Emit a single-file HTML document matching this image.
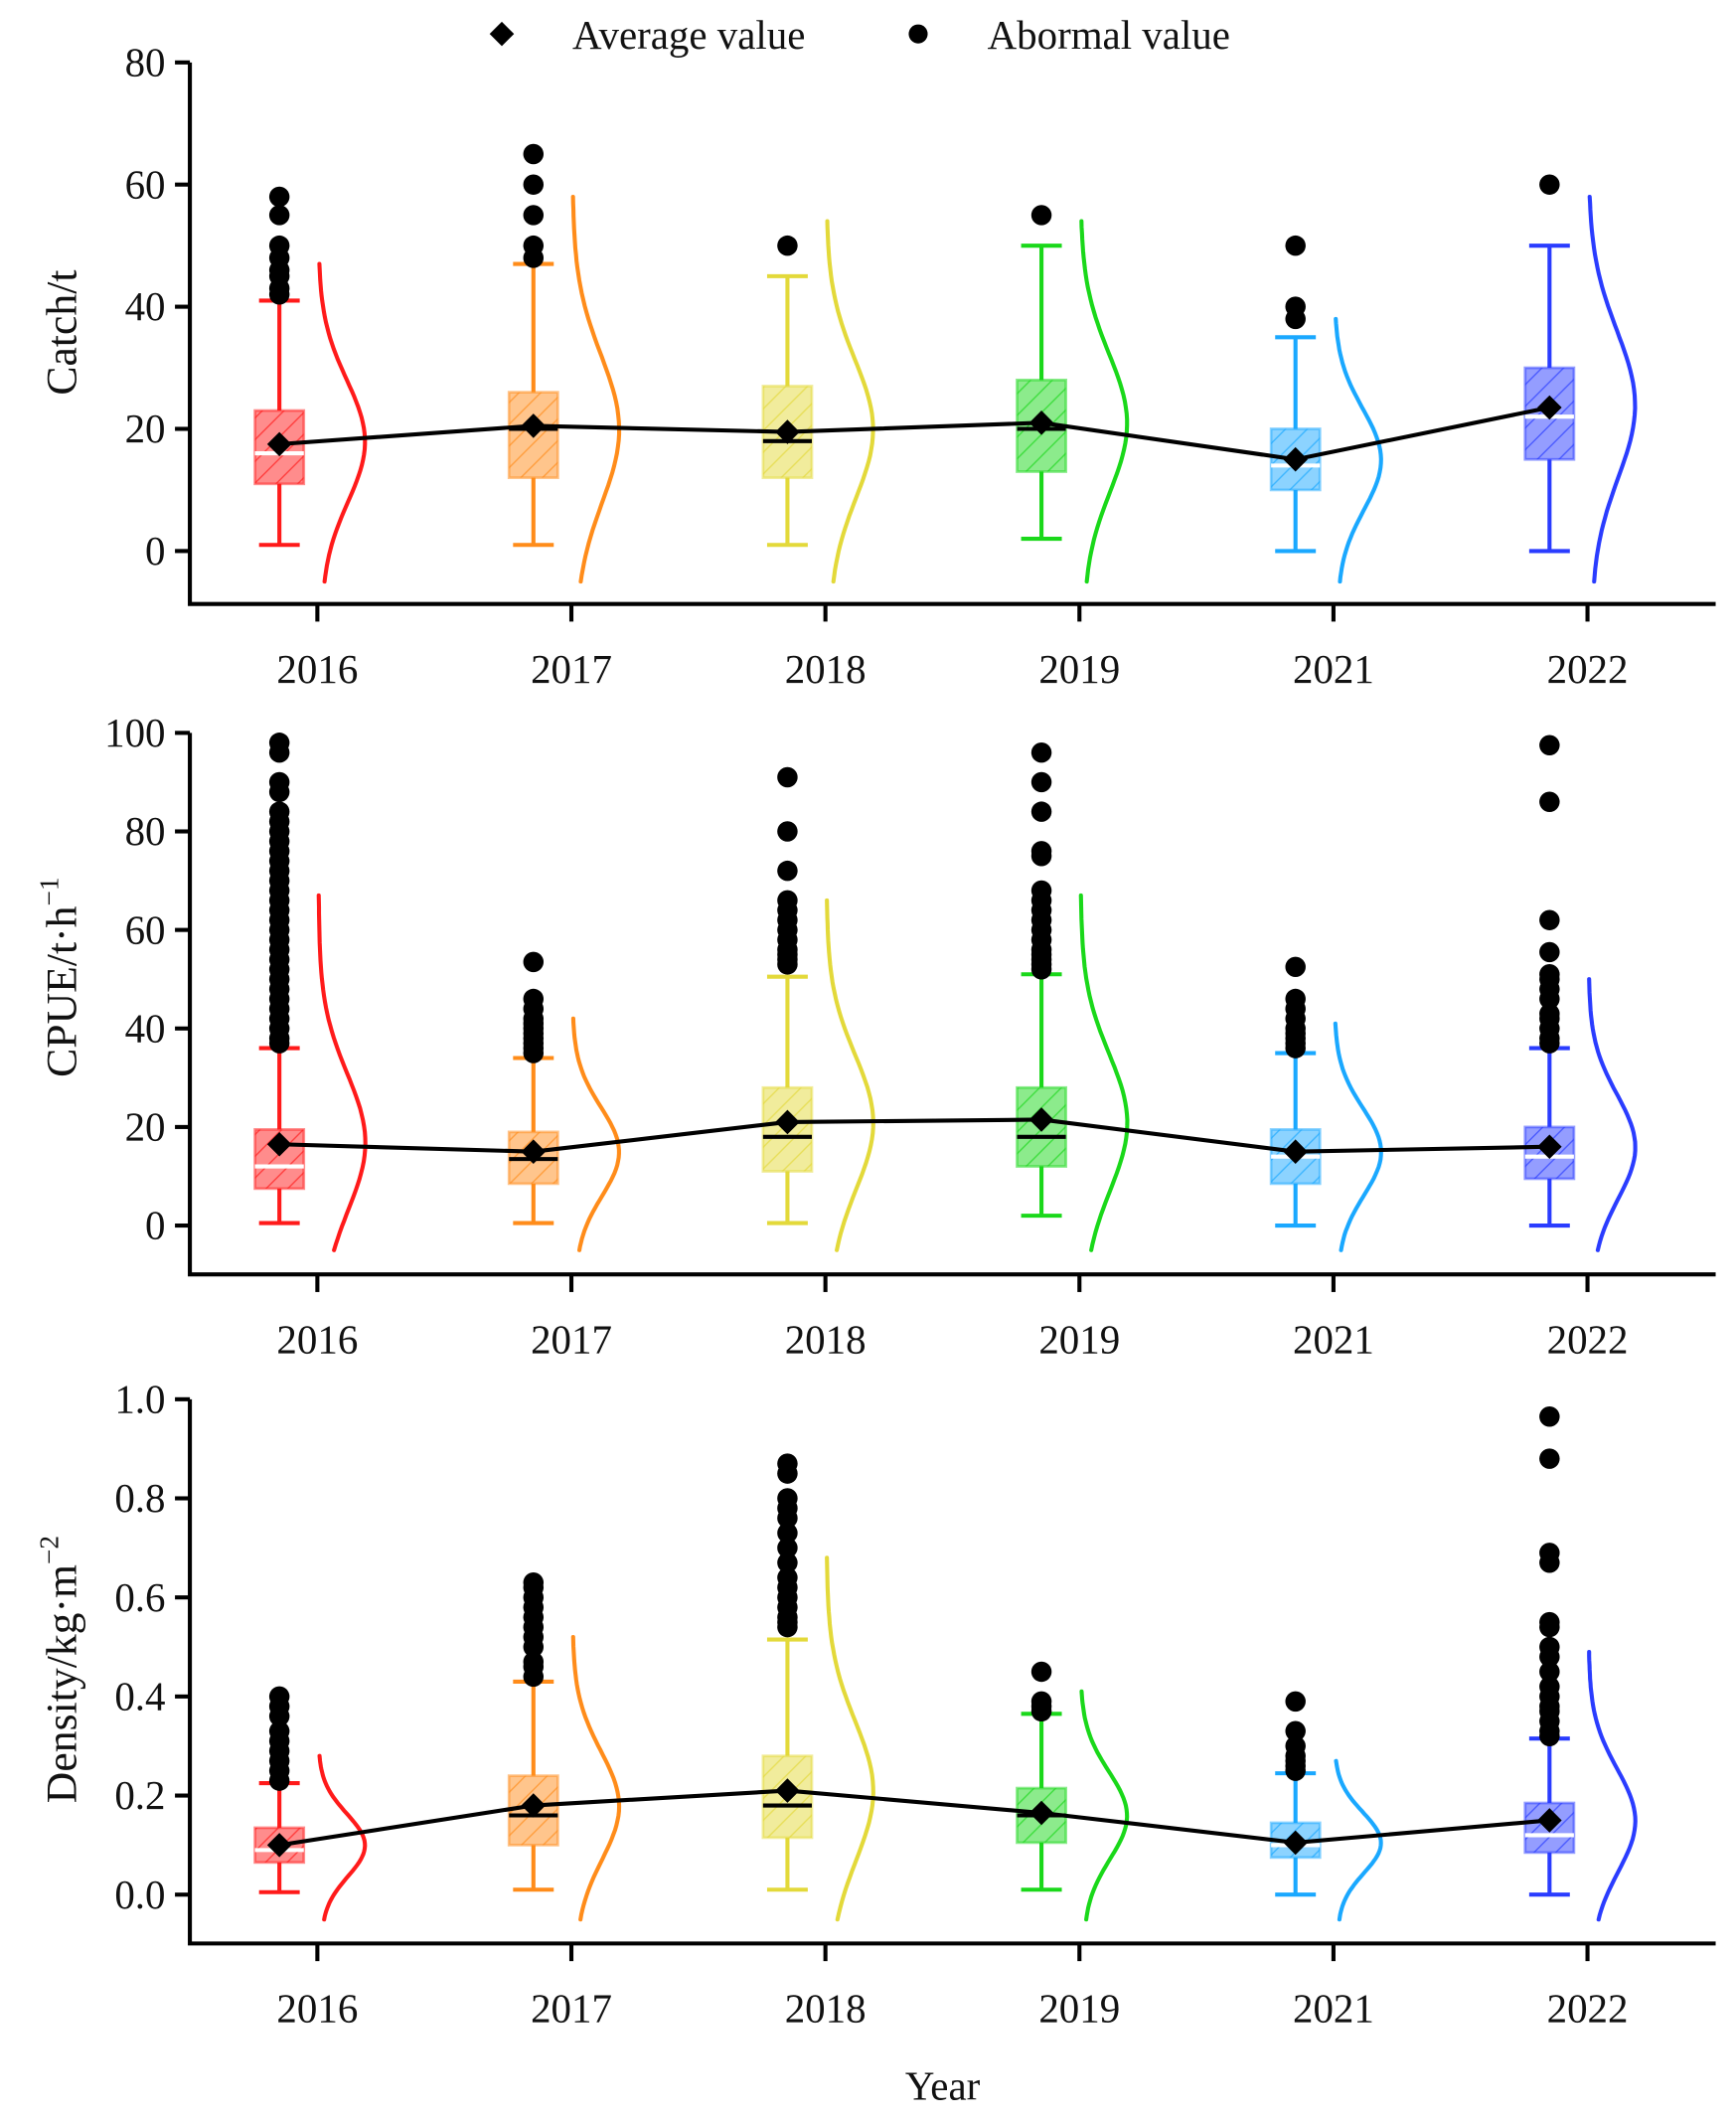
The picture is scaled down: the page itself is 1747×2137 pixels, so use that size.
<!DOCTYPE html>
<html><head><meta charset="utf-8"><style>
html,body{margin:0;padding:0;background:#fff}
svg{display:block}
text{font-family:"Liberation Serif",serif;fill:#111}
</style></head><body>
<svg id="chart" width="1747" height="2137" viewBox="0 0 1280 1565" preserveAspectRatio="none" xmlns="http://www.w3.org/2000/svg">
<defs id="defs"></defs>
<g>
<path d="M370 16 L379 25 L370 34 L361 25 Z" fill="#000"/>
<text x="422" y="36" font-size="30">Average value</text>
<circle cx="677" cy="25" r="7" fill="#000"/>
<text x="728" y="36" font-size="30">Abormal value</text>
</g>
<text x="695" y="1547" font-size="30" text-anchor="middle">Year</text>
</svg>
<script>
const years=['2016','2017','2018','2019','2021','2022'];
const colors=['#ff1a1a','#ff8c1a','#e3d93a','#1ad81a','#1aa8ff','#2a3cff'];
// Catch
const catchWhisk=[[1,41],[1,47],[1,45],[2,50],[0,35],[0,50]];
const catchBox=[[11,23],[12,26],[12,27],[13,28],[10,20],[15,30]];
const catchMed=[16,20,18,20,14,22];
const catchMean=[17.5,20.5,19.5,21,15,23.5];
const catchOut=[[42,43,45,46,48,50,55,58],[48,50,55,60,65],[50],[55],[38,40,50],[60]];
const catchKde=[[-5,47,18],[-5,58,20],[-5,54,20],[-5,54,21],[-5,38,15],[-5,58,24]];
// CPUE
const cpueWhisk=[[0.5,36],[0.5,34],[0.5,50.5],[2,51],[0,35],[0,36]];
const cpueBox=[[7.5,19.5],[8.5,19],[11,28],[12,28],[8.5,19.5],[9.5,20]];
const cpueMed=[12,13.5,18,18,14,14];
const cpueMean=[16.5,15,21,21.5,15,16];
const cpueOut=[[37,38,40,42,44,46,48,50,52,54,56,58,60,62,64,66,68,70,72,74,76,78,80,82,84,88,90,96,98],[35,36,37,38,39,40,41,42,44,46,53.5],[53,54,55,56,58,60,62,64,66,72,80,91],[52,53,54,55,56,58,60,62,64,66,68,75,76,84,90,96],[36,37,38,39,40,42,44,46,52.5],[37,38,40,42,43,46,48,50,51,55.5,62,86,97.5]];
const cpueKde=[[-5,67,17],[-5,42,15],[-5,66,21],[-5,67,21],[-5,41,15],[-5,50,16]];
// Density
const denWhisk=[[0.005,0.225],[0.01,0.43],[0.01,0.515],[0.01,0.365],[0,0.245],[0,0.315]];
const denBox=[[0.065,0.135],[0.10,0.24],[0.115,0.28],[0.105,0.215],[0.075,0.145],[0.085,0.185]];
const denMed=[0.09,0.16,0.18,0.16,0.10,0.12];
const denMean=[0.10,0.18,0.21,0.165,0.105,0.15];
const denOut=[[0.23,0.25,0.27,0.29,0.31,0.33,0.36,0.38,0.40],[0.44,0.46,0.47,0.50,0.52,0.54,0.56,0.58,0.60,0.62,0.63],[0.54,0.55,0.56,0.58,0.60,0.62,0.64,0.67,0.70,0.73,0.76,0.78,0.80,0.85,0.87],[0.37,0.38,0.39,0.45],[0.25,0.26,0.27,0.28,0.30,0.33,0.39],[0.32,0.33,0.35,0.37,0.38,0.40,0.42,0.45,0.48,0.50,0.54,0.55,0.67,0.69,0.88,0.965]];
const denKde=[[-0.05,0.28,0.1],[-0.05,0.52,0.18],[-0.05,0.68,0.21],[-0.05,0.41,0.16],[-0.05,0.27,0.105],[-0.05,0.49,0.15]];
const catchTicks=[0,20,40,60,80];
const cpueTicks=[0,20,40,60,80,100];
const denTicks=[0,0.2,0.4,0.6,0.8,1.0];

const NS='http://www.w3.org/2000/svg';
const svg=document.getElementById('chart');
const defs=document.getElementById('defs');
function mk(tag,attrs,parent){const e=document.createElementNS(NS,tag);for(const k in attrs)e.setAttribute(k,attrs[k]);(parent||svg).appendChild(e);return e;}
colors.forEach((c,i)=>{
  const p=mk('pattern',{id:'h'+i,width:16,height:16,patternUnits:'userSpaceOnUse'},defs);
  mk('rect',{width:16,height:16,fill:c,'fill-opacity':0.5},p);
  mk('path',{d:'M0 16 L16 0 M-4 4 L4 -4 M12 20 L20 12',stroke:c,'stroke-width':1,'stroke-opacity':0.7},p);
});
const tickX=i=>234+i*187.3;

const panels=[
 {name:'catch',y0:406,y1:46,v0:0,v1:80,bottom:445,top:46,whisk:catchWhisk,box:catchBox,med:catchMed,mean:catchMean,out:catchOut,kde:catchKde,ticks:catchTicks,fmt:v=>String(v),label:'Catch/t',labY:245,labSup:null},
 {name:'cpue',y0:903,y1:540,v0:0,v1:100,bottom:939,top:540,whisk:cpueWhisk,box:cpueBox,med:cpueMed,mean:cpueMean,out:cpueOut,kde:cpueKde,ticks:cpueTicks,fmt:v=>String(v),label:'CPUE/t·h',labY:720,labSup:'−1'},
 {name:'density',y0:1396,y1:1031,v0:0,v1:1,bottom:1432,top:1031,whisk:denWhisk,box:denBox,med:denMed,mean:denMean,out:denOut,kde:denKde,ticks:denTicks,fmt:v=>v.toFixed(1),label:'Density/kg·m',labY:1230,labSup:'−2'}
];
panels.forEach(P=>{
  const y=v=>P.y0+(v-P.v0)/(P.v1-P.v0)*(P.y1-P.y0);
  const g=mk('g',{});
  
  
  const ax=mk('path',{d:`M140 ${P.top} L140 ${P.bottom} L1265 ${P.bottom}`,fill:'none',stroke:'#000','stroke-width':3},g);
  
  
  P.ticks.forEach(t=>{
    mk('line',{x1:129,x2:140,y1:y(t),y2:y(t),stroke:'#000','stroke-width':3},g);
    const tx=mk('text',{x:122,y:y(t)+10,'font-size':30,'text-anchor':'end'},g);
    tx.textContent=P.fmt(t);
    
    
  });
  years.forEach((yr,i)=>{
    const tx0=tickX(i);
    mk('line',{x1:tx0,x2:tx0,y1:P.bottom,y2:P.bottom+13,stroke:'#000','stroke-width':3},g);
    const t=mk('text',{x:tx0,y:P.bottom+58,'font-size':30,'text-anchor':'middle'},g);
    t.textContent=yr;
    
    
  });
  const lab=mk('text',{transform:`translate(56 ${P.labY}) rotate(-90)`,'font-size':32,'text-anchor':'middle'},g);
  lab.textContent=P.label;
  if(P.labSup){const s=mk('tspan',{dy:-13,'font-size':20},lab);s.textContent=P.labSup;}
  
  
  years.forEach((yr,i)=>{
    const c=colors[i],cx=tickX(i)-28;
    const bg=mk('g',{},g);
    
    
    const [w0,w1]=P.whisk[i],[b0,b1]=P.box[i];
    mk('line',{x1:cx,x2:cx,y1:y(w0),y2:y(b0),stroke:c,'stroke-width':3},bg);
    mk('line',{x1:cx,x2:cx,y1:y(b1),y2:y(w1),stroke:c,'stroke-width':3},bg);
    mk('line',{x1:cx-15,x2:cx+15,y1:y(w0),y2:y(w0),stroke:c,'stroke-width':3},bg);
    mk('line',{x1:cx-15,x2:cx+15,y1:y(w1),y2:y(w1),stroke:c,'stroke-width':3},bg);
    mk('rect',{x:cx-18,y:y(b1),width:36,height:y(b0)-y(b1),fill:`url(#h${i})`,stroke:c,'stroke-opacity':0.5,'stroke-width':2},bg);
    mk('line',{x1:cx-18,x2:cx+18,y1:y(P.med[i]),y2:y(P.med[i]),stroke:(i==1||i==2||i==3)?'#000':'#fff','stroke-width':3},bg);
    P.out[i].forEach(v=>{
      const d=mk('circle',{cx:cx,cy:y(v),r:7.5,fill:'#000'},bg);
      
      
    });
    const [lo,hi,pk]=P.kde[i];const sd=(hi-lo)/5.2;const kx=tickX(i)+1;
    let pts=[];
    for(let k=0;k<=60;k++){const v=hi-(hi-lo)*k/60;const wgt=Math.exp(-0.5*((v-pk)/sd)**2);pts.push(`${(kx+33*wgt+(k/60)*2).toFixed(1)},${y(v).toFixed(1)}`);}
    const kd=mk('polyline',{points:pts.join(' '),fill:'none',stroke:c,'stroke-width':3,'stroke-linecap':'round'},bg);
    
    
  });
  const mp=years.map((yr,i)=>`${tickX(i)-28},${y(P.mean[i])}`).join(' ');
  const ml=mk('polyline',{points:mp,fill:'none',stroke:'#000','stroke-width':3},g);
  
  
  years.forEach((yr,i)=>{
    const mx=tickX(i)-28,my=y(P.mean[i]);
    const dm=mk('path',{d:`M${mx} ${my-9} L${mx+9} ${my} L${mx} ${my+9} L${mx-9} ${my} Z`,fill:'#000'},g);
    
    
  });
});
</script>
</body></html>
